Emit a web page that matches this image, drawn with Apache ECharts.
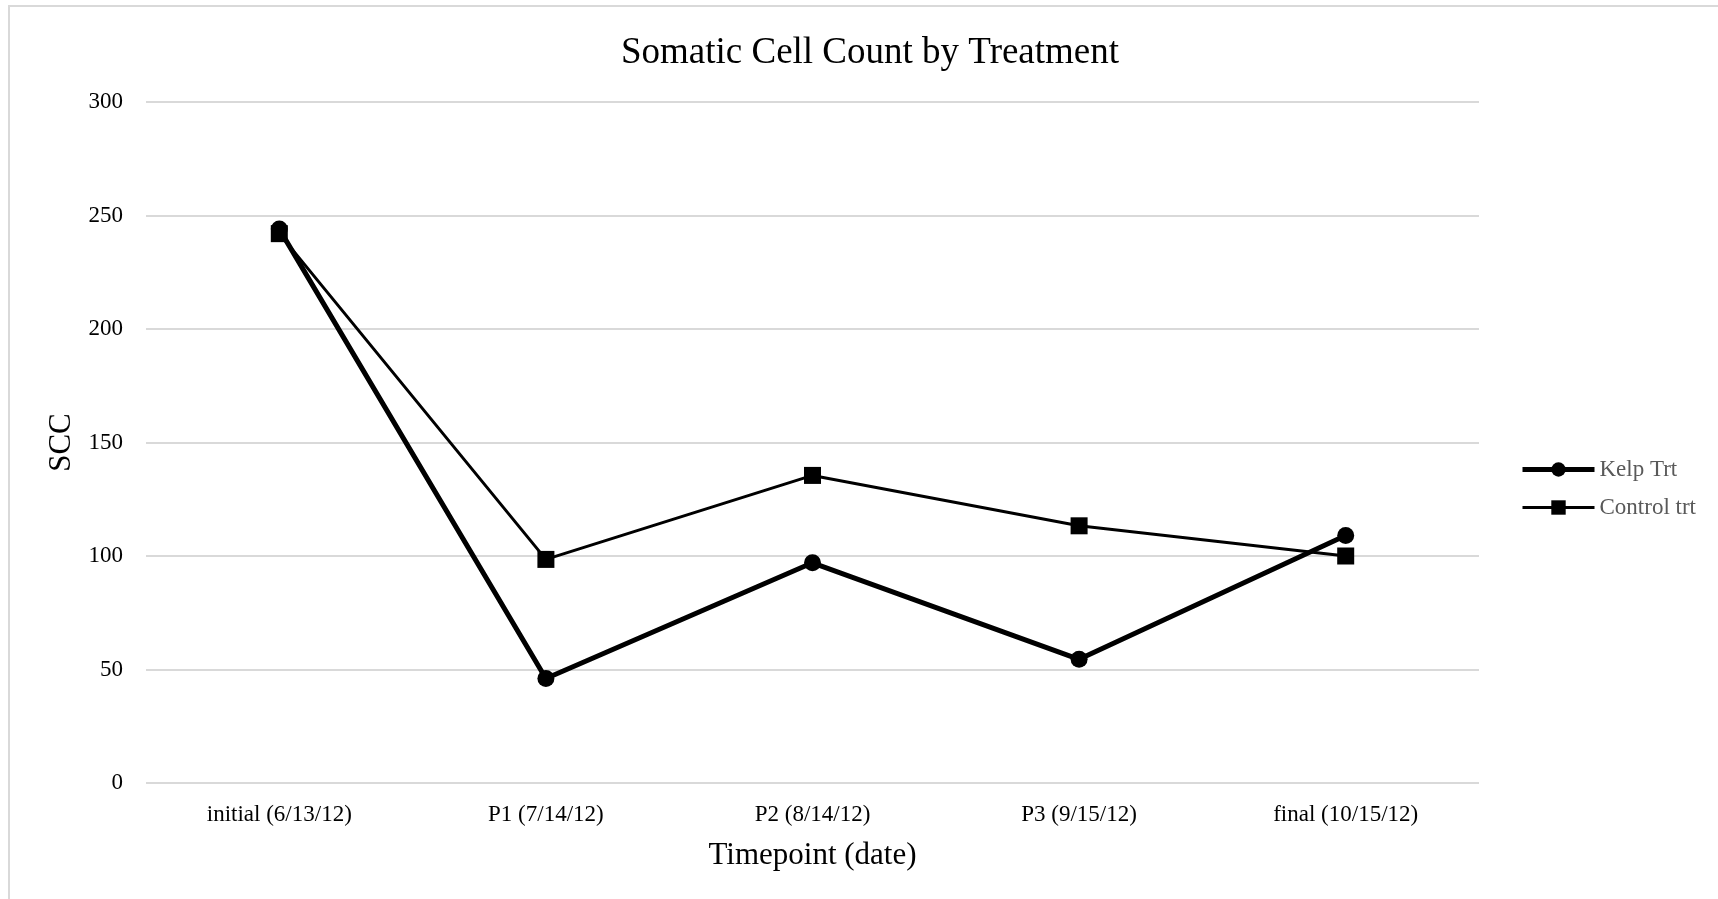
<!DOCTYPE html>
<html>
<head>
<meta charset="utf-8">
<script src="https://cdn.jsdelivr.net/npm/echarts@6/dist/echarts.min.js"></script>
<style>
  html, body { margin: 0; padding: 0; background: #fff; }
  #chart { width: 1718px; height: 899px; }
</style>
</head>
<body>
<div id="chart"></div>
<script>
// timepoints on the x axis
var timepoints = ['initial (6/13/12)', 'P1 (7/14/12)', 'P2 (8/14/12)', 'P3 (9/15/12)', 'final (10/15/12)'];
// SCC per treatment
var kelpTrt = [244, 46, 97, 54.5, 109];
var controlTrt = [242, 98.5, 135.5, 113.3, 100];

var serif = 'Liberation Serif';

var option = {
  animation: false,
  backgroundColor: '#fff',
  title: {
    text: 'Somatic Cell Count by Treatment',
    left: 865,
    top: 30,
    textAlign: 'center',
    textStyle: { fontFamily: serif, fontSize: 37, fontWeight: 'normal', color: '#000' }
  },
  legend: {
    orient: 'vertical',
    left: 1515,
    top: 453,
    itemWidth: 72,
    itemHeight: 18,
    itemGap: 15,
    textStyle: { fontFamily: serif, fontSize: 23, color: '#595959' },
    data: [
      { name: 'Kelp Trt', lineStyle: { width: 5 } },
      { name: 'Control trt', lineStyle: { width: 3 } }
    ]
  },
  grid: { left: 146, right: 239, top: 102, bottom: 116 },
  xAxis: {
    type: 'category',
    data: timepoints,
    name: 'Timepoint (date)',
    nameLocation: 'middle',
    nameGap: 57,
    nameTextStyle: { fontFamily: serif, fontSize: 31, color: '#000' },
    axisLine: { show: false },
    axisTick: { show: false },
    axisLabel: { fontFamily: serif, fontSize: 23, color: '#000', margin: 20 }
  },
  yAxis: {
    type: 'value',
    min: 0,
    max: 300,
    interval: 50,
    name: 'SCC',
    nameLocation: 'middle',
    nameGap: 66,
    nameTextStyle: { fontFamily: serif, fontSize: 31, color: '#000' },
    axisLine: { show: false },
    axisTick: { show: false },
    axisLabel: { fontFamily: serif, fontSize: 23, color: '#000', margin: 23 },
    splitLine: { lineStyle: { color: '#d9d9d9', width: 2 } }
  },
  series: [
    {
      name: 'Kelp Trt',
      type: 'line',
      data: kelpTrt,
      symbol: 'circle',
      symbolSize: 17,
      lineStyle: { color: '#000', width: 5 },
      itemStyle: { color: '#000' },
      z: 3
    },
    {
      name: 'Control trt',
      type: 'line',
      data: controlTrt,
      symbol: 'rect',
      symbolSize: 17,
      lineStyle: { color: '#000', width: 3 },
      itemStyle: { color: '#000' },
      z: 4
    }
  ],
  graphic: [{
    type: 'rect',
    shape: { x: 9, y: 6, width: 1740, height: 920 },
    style: { fill: 'none', stroke: '#d9d9d9', lineWidth: 2 },
    silent: true
  }]
};

echarts.init(document.getElementById('chart')).setOption(option);
</script>
</body>
</html>
